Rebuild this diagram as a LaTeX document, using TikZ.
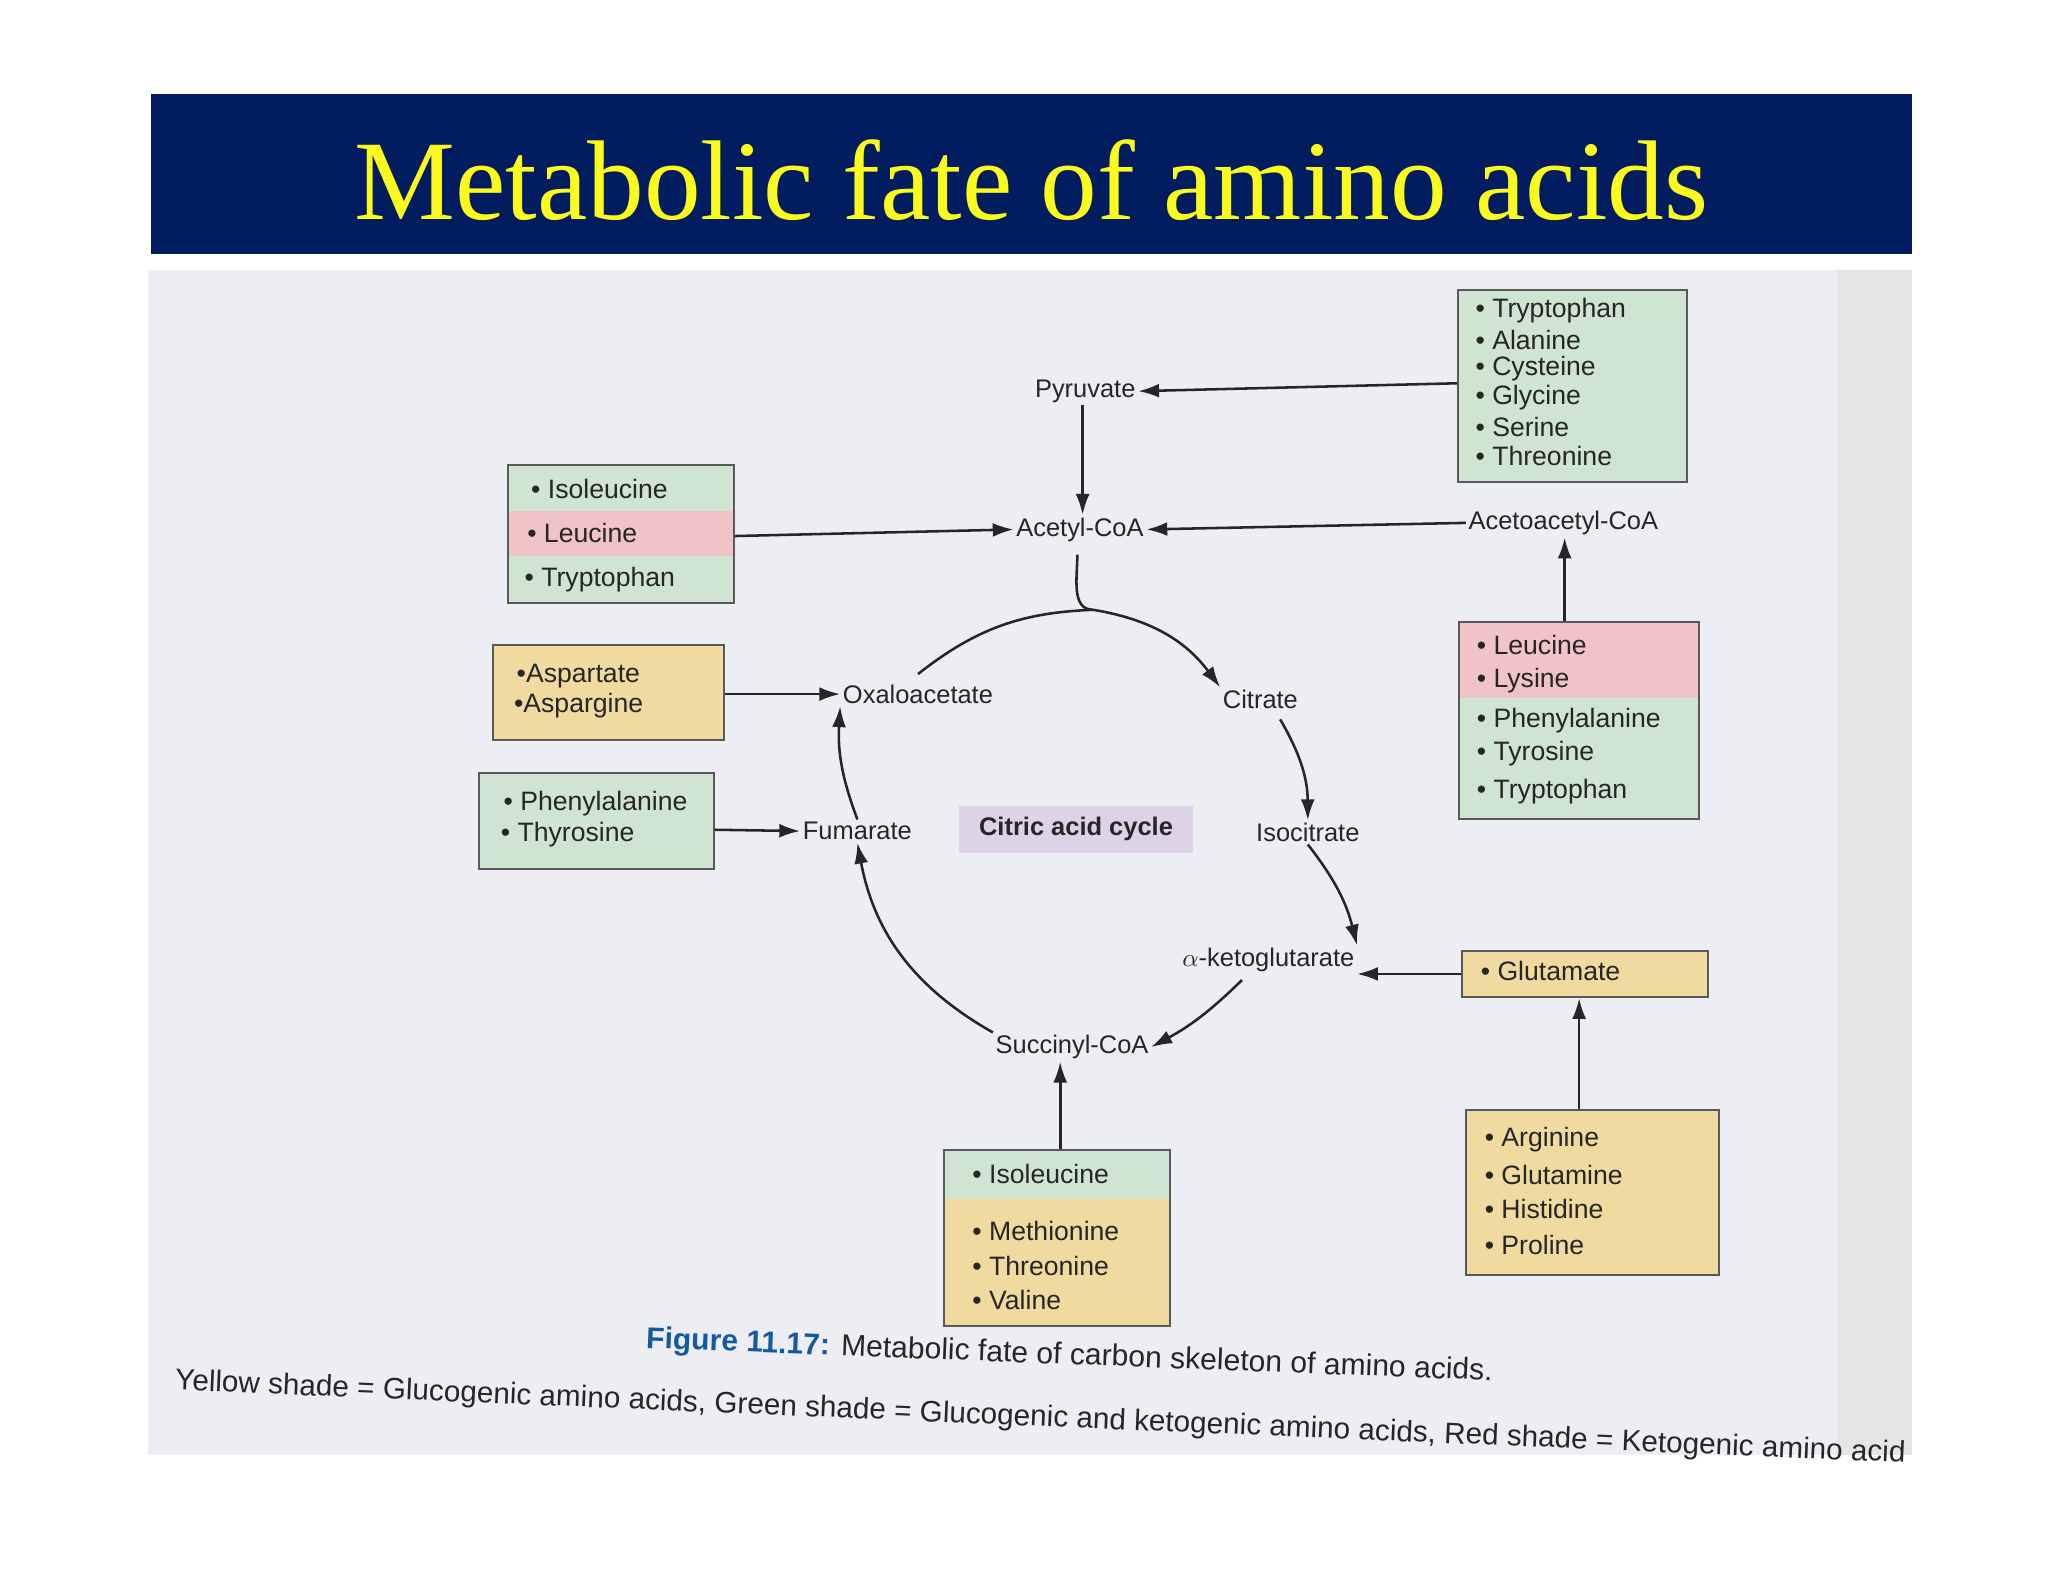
\documentclass[tikz,border=0pt]{standalone}
\usepackage{fontspec}
\setmainfont{Liberation Sans}
\newfontfamily\titlefont{Liberation Serif}
\usetikzlibrary{arrows.meta}
\definecolor{navy}{RGB}{2,28,96}
\definecolor{ttl}{RGB}{250,250,30}
\definecolor{paper}{RGB}{236,238,244}
\definecolor{gr}{RGB}{208,228,210}
\definecolor{rd}{RGB}{240,196,198}
\definecolor{yl}{RGB}{240,218,160}
\definecolor{lav}{RGB}{220,212,230}
\definecolor{capblue}{RGB}{20,90,160}
\newcommand\mybox[5]{\node[draw=black!65,line width=0.9pt,inner sep=0pt,minimum width={(#4-#2)*0.02cm},minimum height={(#5-#3)*0.02cm}] (#1) at ({(#2+#4)/2},{(#3+#5)/2}) {};}
\newcommand\band[5]{\fill[#1] (#2,#3) rectangle (#4,#5);}
\begin{document}
\begin{tikzpicture}[x=0.02cm,y=-0.02cm,
  lbl/.style={font=\fontsize{11}{13}\selectfont,inner sep=1pt,text=black!85},
  itm/.style={font=\fontsize{11.5}{14}\selectfont,anchor=west,inner sep=0pt,text=black!85},
  arr/.style={line width=1.1pt,black!85,-{Latex[length=9pt,width=6pt]}},
  ln/.style={line width=1.1pt,black!85}]
\useasboundingbox (0,0) rectangle (1555,1201);
\fill[white] (0,0) rectangle (1555,1201);
\fill[navy] (115,71) rectangle (1452,193);
\node[text=ttl,font=\titlefont\fontsize{49}{54}\selectfont] (title) at (783,137) {Metabolic fate of amino acids};
\fill[paper] (112,205) rectangle (1452,1105);
\fill[black!10] (1395,205) rectangle (1452,1105);
% labels
\node[lbl] (pyr) at (824,297) {Pyruvate};
\node[lbl] (acc) at (820,402) {Acetyl-CoA};
\node[lbl] (aac) at (1187,397) {Acetoacetyl-CoA};
\node[lbl] (oxa) at (697,527) {Oxaloacetate};
\node[lbl] (cit) at (957,531) {Citrate};
\node[lbl] (fum) at (651,631) {Fumarate};
\fill[lav] (728,612) rectangle (906,648);
\node[lbl,font=\bfseries\fontsize{11}{13}\selectfont] (cac) at (817,629) {Citric acid cycle};
\node[lbl] (iso) at (993,632) {Isocitrate};
\node[lbl] (akg) at (963,729) {$\alpha$-ketoglutarate};
\node[lbl] (suc) at (814,795) {Succinyl-CoA};
% B1
\band{gr}{1107}{220}{1281}{366}
\mybox{b1}{1107}{220}{1281}{366}
\foreach \t [count=\i] in {Tryptophan,Alanine,Cysteine,Glycine,Serine,Threonine}
  \node[itm] at (1120,{214+\i*22}) {\textbullet\ \t};
% B2
\band{gr}{386}{353}{557}{388}\band{rd}{386}{388}{557}{422}\band{gr}{386}{422}{557}{458}
\mybox{b2}{386}{353}{557}{458}
\node[itm] at (403,371) {\textbullet\ Isoleucine};
\node[itm] at (400,405) {\textbullet\ Leucine};
\node[itm] at (398,440) {\textbullet\ Tryptophan};
% B3
\band{yl}{374}{490}{550}{562}\mybox{b3}{374}{490}{550}{562}
\node[itm] at (392,513) {\textbullet Aspartate};
\node[itm] at (390,536) {\textbullet Aspargine};
% B4
\band{gr}{364}{587}{542}{660}\mybox{b4}{364}{587}{542}{660}
\node[itm] at (382,610) {\textbullet\ Phenylalanine};
\node[itm] at (380,634) {\textbullet\ Thyrosine};
% B5
\band{rd}{1108}{472}{1290}{530}\band{gr}{1108}{530}{1290}{622}
\mybox{b5}{1108}{472}{1290}{622}
\foreach \t/\y in {Leucine/490,Lysine/517,Phenylalanine/547,Tyrosine/572,Tryptophan/601}
  \node[itm] at (1121,\y) {\textbullet\ \t};
% B6
\band{yl}{1110}{722}{1297}{757}\mybox{b6}{1110}{722}{1297}{757}
\node[itm] at (1124,737) {\textbullet\ Glutamate};
% B7
\band{yl}{1113}{843}{1305}{968}\mybox{b7}{1113}{843}{1305}{968}
\foreach \t/\y in {Arginine/865,Glutamine/892,Histidine/918,Proline/945}
  \node[itm] at (1127,\y) {\textbullet\ \t};
% B8
\band{gr}{717}{873}{888}{910}\band{yl}{717}{910}{888}{1007}
\mybox{b8}{717}{873}{888}{1007}
\foreach \t/\y in {Isoleucine/891,Methionine/935,Threonine/961,Valine/987}
  \node[itm] at (738,\y) {\textbullet\ \t};
% arrows
\draw[arr] (b1.west |- 0,291) -- (pyr.east);
\draw[arr] (pyr.south -| 822,0) -- (acc.north -| 822,0);
\draw[arr] (b2.east |- 0,407) -- (acc.west);
\draw[arr] (aac.west) -- (acc.east);
\draw[arr] (b5.north -| 1188,0) -- (aac.south -| 1188,0);
\draw[arr] (b3.east |- 0,527) -- (oxa.west);
\draw[arr] (b4.east |- 0,630) -- (fum.west);
\draw[arr] (b6.west) -- (akg.east |- b6.west);
\draw[arr] (b7.north -| 1199,0) -- (b6.south -| 1199,0);
\draw[arr] (b8.north -| 805,0) -- (suc.south -| 805,0);
% cycle
\coordinate (top) at (830,463);
\draw[ln] (acc.south) ++(-2,8) to[out=-90,in=180] (top);
\draw[arr] (top) to[bend left=22] (cit.north west);
\draw[ln] (oxa.north) ++(0,-6) to[bend left=18] (top);
\draw[arr] (cit.south) ++(15,6) to[bend left=15] (iso.north);
\draw[arr] (iso.south) to[bend left=12] (akg.north east);
\draw[arr] (akg.south) ++(-20,4) to[bend left=8] (suc.east);
\draw[arr] (suc.north west) to[bend left=25] (fum.south);
\draw[arr] (fum.north) to[bend left=12] (oxa.south west);
% caption
\node[rotate=-2.2,font=\fontsize{13}{15}\selectfont,text=black!85] (cap1) at (812,1030) {\textcolor{capblue}{\bfseries Figure 11.17:} Metabolic fate of carbon skeleton of amino acids.};
\node[rotate=-2.4,text=black!85,inner sep=0pt] (cap2) at (790,1077) {\resizebox{1315\dimexpr0.02cm\relax}{!}{\fontsize{13}{15}\selectfont Yellow shade = Glucogenic amino acids, Green shade = Glucogenic and ketogenic amino acids, Red shade = Ketogenic amino acid}};
\end{tikzpicture}
\end{document}
